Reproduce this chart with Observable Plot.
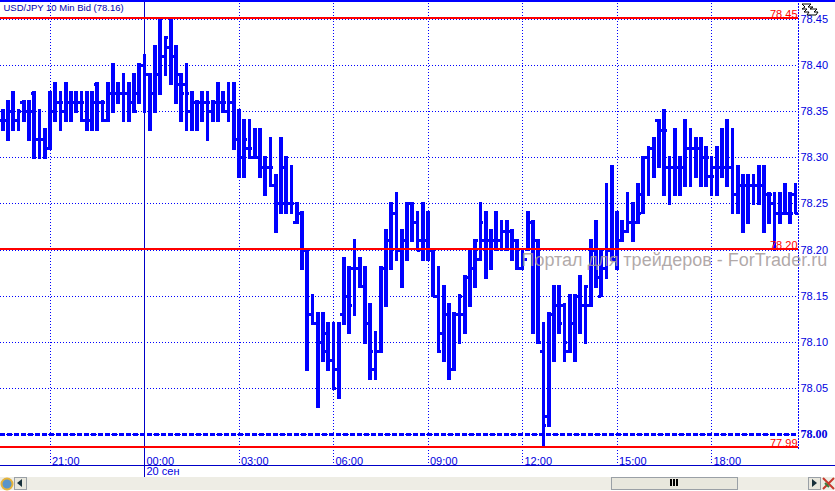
<!DOCTYPE html>
<html>
<head>
<meta charset="utf-8">
<script src="https://cdn.jsdelivr.net/npm/d3@7"></script>
<script src="https://cdn.jsdelivr.net/npm/@observablehq/plot@0.6"></script>
<style>
html,body{margin:0;padding:0;background:#fff;width:835px;height:491px;overflow:hidden}
#wrap{position:relative;width:835px;height:491px}
svg.plot{display:block}
.chrome{position:absolute}
</style>
</head>
<body>
<div id="wrap"></div>
<script>
// Prices are hundredths above 78.00 (10-minute bars)
const highs = [35,36,37,35,36,36,37,35,33,37,38,37,38,37,37,37,37,37,38,36,38,40,38,39,38,39,40,41,39,42,45,43,45,42,39,40,37,36,37,37,36,38,37,38,38,35,34,34,33,33,30,32,28,32,30,29,25,24,20,15,13,13,12,12,12,19,18,21,19,18,14,11,18,22,25,26,22,25,25,24,25,24,20,18,16,14,13,15,17,20,21,25,24,22,24,23,23,22,21,20,24,23,21,12,13,16,16,14,15,15,17,16,21,23,20,27,29,24,23,26,25,27,30,31,32,34,35,30,33,30,34,33,32,32,31,30,31,33,34,33,29,28,28,28,29,29,26,26,26,27,26,27];
const lows  = [33,32,33,33,34,32,30,30,30,31,34,33,34,34,35,34,33,33,33,34,34,35,36,34,34,35,36,35,33,35,37,39,38,36,34,33,33,33,34,32,34,34,35,34,31,28,28,30,30,28,26,27,22,24,24,24,23,18,7,12,3,8,7,5,4,12,11,13,16,10,6,6,9,14,18,19,16,19,21,20,19,19,15,9,8,6,7,10,11,14,16,19,17,18,20,20,20,19,18,18,20,11,10,-1.3,1,8,11,8,9,8,11,10,14,16,15,17,19,18,21,22,21,23,24,26,28,29,26,25,26,26,27,27,28,27,27,26,26,28,27,24,24,22,23,25,25,22,23,20,23,24,23,24];
const opens = [34,34,35,34,36,35,37,32,32,31,35,36,35,36,36,36,34,34,38,36,34,37,37,37,37,36,37,40,39,37,39,41,42,41,38,38,35,36,36,36,35,36,36,35,36,32,30,31,30,30,29,29,27,25,29,25,23,24,20,13,12,10,9,8,7,13,15,18,18,16,12,7,9,18,21,24,20,21,25,23,21,21,20,15,11,13,7,13,13,17,18,19,21,21,21,21,22,22,21,18,19,23,21,9,2,13,14,14,9,12,15,14,14,20,15,18,20,19,21,22,23,23,26,30,31,34,33,29,29,29,29,31,31,31,30,28,29,29,29,29,26,27,27,27,27,27,26,25,24,24,24,26];
const closes= [34,35,34,35,35,35,32,32,32,35,36,36,36,36,36,36,34,36,36,36,36,37,37,37,35,35,40,39,37,39,41,43,41,39,37,37,36,36,36,36,36,36,36,36,36,30,32,31,30,29,29,29,25,25,25,25,24,20,13,12,10,11,8,5,12,15,14,18,16,12,9,9,15,21,24,20,21,25,23,20,21,20,15,9,14,7,13,15,17,18,21,23,21,21,21,22,22,21,18,19,23,21,10,1,13,14,12,10,12,15,14,16,20,17,18,20,19,21,22,23,23,24,30,31,32,33,33,29,29,29,31,31,30,30,30,28,29,29,29,26,27,27,27,27,27,26,26,24,24,24,24,24];
const base = 78;
const price = p => base + p / 100;
const bars = highs.map((h, i) => ({i, high: price(h), low: price(lows[i]), open: price(opens[i]), close: price(closes[i])}));

const gridPrices = [78.45,78.40,78.35,78.30,78.25,78.20,78.15,78.10,78.05,78.00];
const priceLabels = [78.45,78.40,78.35,78.30,78.25,78.20,78.15,78.10,78.05];
const boldPrice = [78.00];
const levelPrices = [78.4515,78.2008,77.9866];
const levelLabels = ["78.45","78.20","77.99"];
const hourIndex = [9,27,45,63,81,99,117,135];
const hourLabels = ["21:00","00:00","03:00","06:00","09:00","12:00","15:00","18:00"];
const dayIndex = [27];
const dayLabels = ["20 сен"];
const title = "USD/JPY 10 Min Bid (78.16)";
const watermark = "Портал для трейдеров - ForTrader.ru";

const BLUE = "#0000ff", RED = "#ff0000", FONT = "Liberation Sans, Arial, sans-serif";

const chart = Plot.plot({
  width: 835, height: 477,
  marginLeft: 0, marginRight: 37, marginTop: 0, marginBottom: 12,
  style: {background: "#fff", fontFamily: FONT, overflow: "visible"},
  x: {domain: [0, 151], range: [2.25, 795], axis: null},
  y: {domain: [78, 78.45], range: [434, 19], axis: null},
  marks: [
    Plot.ruleY(gridPrices, {stroke: BLUE, strokeWidth: 1, strokeDasharray: "1 2", shapeRendering: "crispEdges"}),
    Plot.ruleX(hourIndex.filter(d => !dayIndex.includes(d)), {stroke: BLUE, strokeWidth: 1, strokeDasharray: "1 2", shapeRendering: "crispEdges"}),
    Plot.frame({anchor: "right", stroke: BLUE, strokeDasharray: "1 2", shapeRendering: "crispEdges", insetBottom: 15}),
    Plot.ruleX(dayIndex, {stroke: "#0000c8", strokeWidth: 1, insetBottom: -12, shapeRendering: "crispEdges"}),
    Plot.ruleY(boldPrice, {stroke: BLUE, strokeWidth: 2.4, strokeDasharray: "5 2", shapeRendering: "crispEdges"}),
    Plot.ruleX(bars, {x: "i", y1: "low", y2: "high", stroke: BLUE, strokeWidth: 3.6, strokeLinecap: "square", shapeRendering: "crispEdges"}),
    Plot.ruleY(bars, {y: "open", x1: d => d.i - 0.6, x2: "i", stroke: BLUE, strokeWidth: 3, shapeRendering: "crispEdges"}),
    Plot.ruleY(bars, {y: "close", x1: "i", x2: d => d.i + 0.6, stroke: BLUE, strokeWidth: 3, shapeRendering: "crispEdges"}),
    Plot.ruleY(levelPrices, {stroke: RED, strokeWidth: 2, shapeRendering: "crispEdges"}),
    Plot.text([watermark], {x: [99], y: [78.189], text: d => d, textAnchor: "start", dx: -1, fill: "#a39a9a", fillOpacity: 0.85, fontSize: 18}),
    Plot.text(levelPrices, {y: d => d, text: (d, i) => levelLabels[i], frameAnchor: "right", textAnchor: "end", lineAnchor: "bottom", dx: -1, dy: 0, fill: RED, fontSize: 11}),
    Plot.text(priceLabels, {y: d => d, text: d => d.toFixed(2), frameAnchor: "right", textAnchor: "start", dx: 2, fill: "#0000e0", fontSize: 11}),
    Plot.text(boldPrice, {y: d => d, text: d => d.toFixed(2), frameAnchor: "right", textAnchor: "start", dx: 2, fill: "#0000e0", fontSize: 12, fontWeight: "bold", fontFamily: "Liberation Serif, serif"}),
    Plot.text(hourIndex, {x: d => d, text: (d, i) => hourLabels[i], frameAnchor: "bottom", textAnchor: "start", lineAnchor: "bottom", dx: 2, dy: -1, fill: "#0000e0", fontSize: 11}),
    Plot.text(dayIndex, {x: d => d, text: (d, i) => dayLabels[i], frameAnchor: "bottom", textAnchor: "start", lineAnchor: "top", dx: 2, dy: 2, fill: "#0000e0", fontSize: 11}),
    Plot.text([title], {text: d => d, frameAnchor: "top-left", textAnchor: "start", lineAnchor: "top", dx: 3, dy: 3.5, fill: "#0000b0", fontSize: 9.5})
  ]
});
const wrap = document.getElementById("wrap");
wrap.appendChild(chart);

// window chrome: top border, axis divider, scroll strip and small icons
wrap.insertAdjacentHTML("beforeend", `
<div class="chrome" style="left:0;top:0;width:835px;height:2px;background:${BLUE}"></div>
<div class="chrome" style="left:0;top:465px;width:835px;height:1px;background:#0000c8"></div>
<div class="chrome" style="left:0;top:477px;width:835px;height:13px;background:#eeede5"></div>
<div class="chrome" style="left:611px;top:477px;width:125px;height:11px;background:#e8e7dd;border:1px solid #9aa0a6"></div>
<div class="chrome" style="left:670px;top:479px;width:8px;height:7px;background:repeating-linear-gradient(90deg,#000 0 2px,transparent 2px 3px)"></div>
<div class="chrome" style="left:14px;top:477px;width:11px;height:11px;background:#e8e7dd;border:1px solid #9aa0a6"></div>
<svg class="chrome" style="left:17px;top:479px" width="6" height="9"><path d="M5 0V8L0 4Z" fill="#17303a"/></svg>
<div class="chrome" style="left:808px;top:477px;width:11px;height:11px;background:#e8e7dd;border:1px solid #9aa0a6"></div>
<svg class="chrome" style="left:812px;top:479px" width="6" height="9"><path d="M0 0V8L5 4Z" fill="#17303a"/></svg>
<svg class="chrome" style="left:0;top:477px" width="14" height="14"><circle cx="7" cy="7" r="5.5" fill="#5a94c8" stroke="#e5b33a" stroke-width="2"/></svg>
<svg class="chrome" style="left:822px;top:477px" width="13" height="14"><path d="M1 1L12 12M12 1L1 12" stroke="#c6392c" stroke-width="2"/><path d="M3 6L7 10" stroke="#3c7a3c" stroke-width="2"/></svg>
<svg class="chrome" style="left:801px;top:3px" width="18" height="13"><path d="M1 1H10L7 4H12L9 6H16L13 9H17L15 12H6L8 9H3L6 6H1L4 4Z" fill="#fff" stroke="#000"/></svg>
`);
</script>
</body>
</html>
